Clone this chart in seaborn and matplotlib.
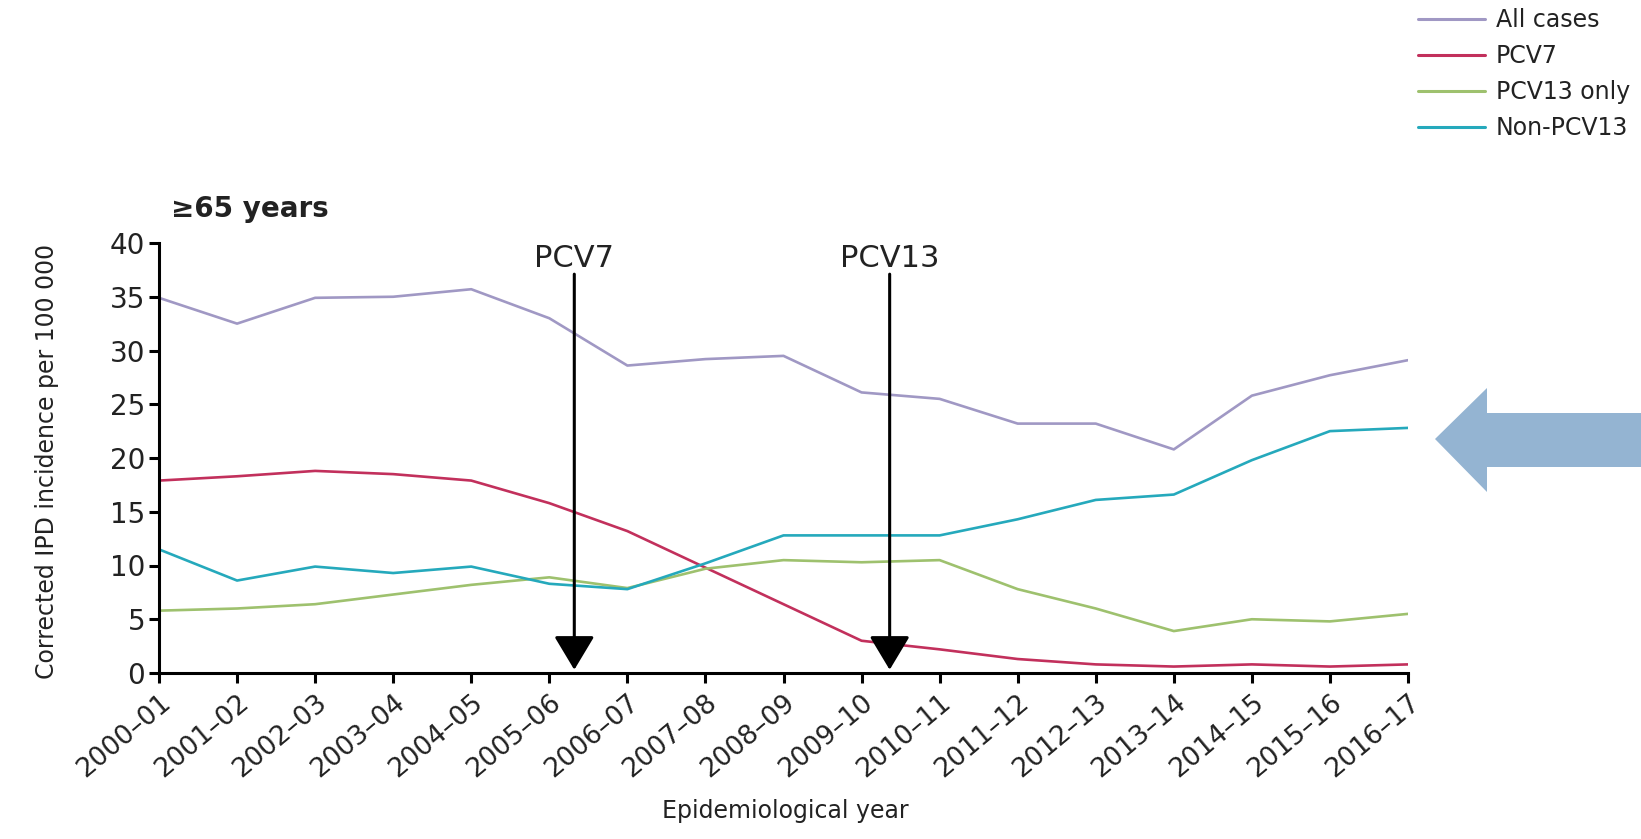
import matplotlib
matplotlib.use("Agg")
import matplotlib.pyplot as plt
from matplotlib.patches import Polygon
import seaborn as sns
import pandas as pd
import numpy as np

years = ["2000–01", "2001–02", "2002–03", "2003–04", "2004–05", "2005–06",
         "2006–07", "2007–08", "2008–09", "2009–10", "2010–11", "2011–12",
         "2012–13", "2013–14", "2014–15", "2015–16", "2016–17"]
all_cases = [34.9, 32.5, 34.9, 35.0, 35.7, 33.0, 28.6, 29.2, 29.5, 26.1, 25.5,
             23.2, 23.2, 20.8, 25.8, 27.7, 29.1]
pcv7 = [17.9, 18.3, 18.8, 18.5, 17.9, 15.8, 13.2, 9.8, 6.4, 3.0, 2.2,
        1.3, 0.8, 0.6, 0.8, 0.6, 0.8]
pcv13_only = [5.8, 6.0, 6.4, 7.3, 8.2, 8.9, 7.9, 9.7, 10.5, 10.3, 10.5,
              7.8, 6.0, 3.9, 5.0, 4.8, 5.5]
non_pcv13 = [11.5, 8.6, 9.9, 9.3, 9.9, 8.3, 7.8, 10.2, 12.8, 12.8, 12.8,
             14.3, 16.1, 16.6, 19.8, 22.5, 22.8]
series_names = ["All cases", "PCV7", "PCV13 only", "Non-PCV13"]
colors = ["#A098C4", "#C2305C", "#9EC16E", "#25A9BC"]
y_ticks = [0, 5, 10, 15, 20, 25, 30, 35, 40]
intro_labels = ["PCV7", "PCV13"]
intro_pos = [5.32, 9.36]

rows = []
for name, vals in zip(series_names, [all_cases, pcv7, pcv13_only, non_pcv13]):
    for i, v in enumerate(vals):
        rows.append({"idx": i, "value": v, "series": name})
df = pd.DataFrame(rows)

sns.set_style("ticks")
plt.rcParams["font.family"] = ["DejaVu Sans"]

fig = plt.figure(figsize=(16.41, 8.39), dpi=100)
ax = fig.add_axes([159/1641, 1-673/839, (1408-159)/1641, (673-243)/839])

sns.lineplot(data=df, x="idx", y="value", hue="series", hue_order=series_names,
             palette=colors, linewidth=1.9, ax=ax, legend=True)

handles, labels = ax.get_legend_handles_labels()
ax.get_legend().remove()

ax.set_xlim(0, 16)
ax.set_ylim(0, 40)
ax.set_xticks(range(len(years)))
ax.set_xticklabels(years, rotation=40, ha="right", rotation_mode="anchor",
                   fontsize=19, color="#222222")
ax.set_yticks(y_ticks)
ax.set_yticklabels([str(t) for t in y_ticks], fontsize=20, color="#222222")
ax.set_xlabel("")
ax.set_ylabel("")
for s in ["top", "right"]:
    ax.spines[s].set_visible(False)
for s in ["left", "bottom"]:
    ax.spines[s].set_linewidth(2.2)
    ax.spines[s].set_color("black")
ax.tick_params(axis="both", length=7, width=2.2, color="black", pad=3)
ax.tick_params(axis="x", pad=5)

for lab, xp in zip(intro_labels, intro_pos):
    ax.annotate("", xy=(xp, 0.3), xytext=(xp, 37.1),
                arrowprops=dict(arrowstyle="-|>,head_length=1.0,head_width=0.6",
                                mutation_scale=21, lw=2.2, color="black",
                                shrinkA=0, shrinkB=0))
    ax.text(xp, 38.6, lab, ha="center", va="center", fontsize=22, color="#222222")

leg = fig.legend(handles, labels, loc="upper left", bbox_to_anchor=(1418/1641, 0.99),
                 frameon=False, fontsize=17, handlelength=2.85, handletextpad=0.45,
                 labelspacing=0.5, borderpad=0, borderaxespad=0)
for h in leg.get_lines():
    h.set_linewidth(2.2)
for t in leg.get_texts():
    t.set_color("#222222")

fig.text(171/1641, 1-209/839, "≥65 years", fontsize=20, fontweight="bold",
         ha="left", va="center", color="#222222")
fig.text(47/1641, 1-461/839, "Corrected IPD incidence per 100 000", rotation=90,
         fontsize=17, ha="center", va="center", color="#222222")
fig.text(785/1641, 1-811/839, "Epidemiological year", fontsize=17,
         ha="center", va="center", color="#222222")

arrow_pts = [(1435, 439), (1487, 388), (1487, 413), (1641, 413),
             (1641, 467), (1487, 467), (1487, 492)]
poly = Polygon([(x/1641, 1-y/839) for x, y in arrow_pts], closed=True,
               transform=fig.transFigure, facecolor="#94B4D2", edgecolor="none")
fig.patches.append(poly)

fig.savefig("out.png", dpi=100)
